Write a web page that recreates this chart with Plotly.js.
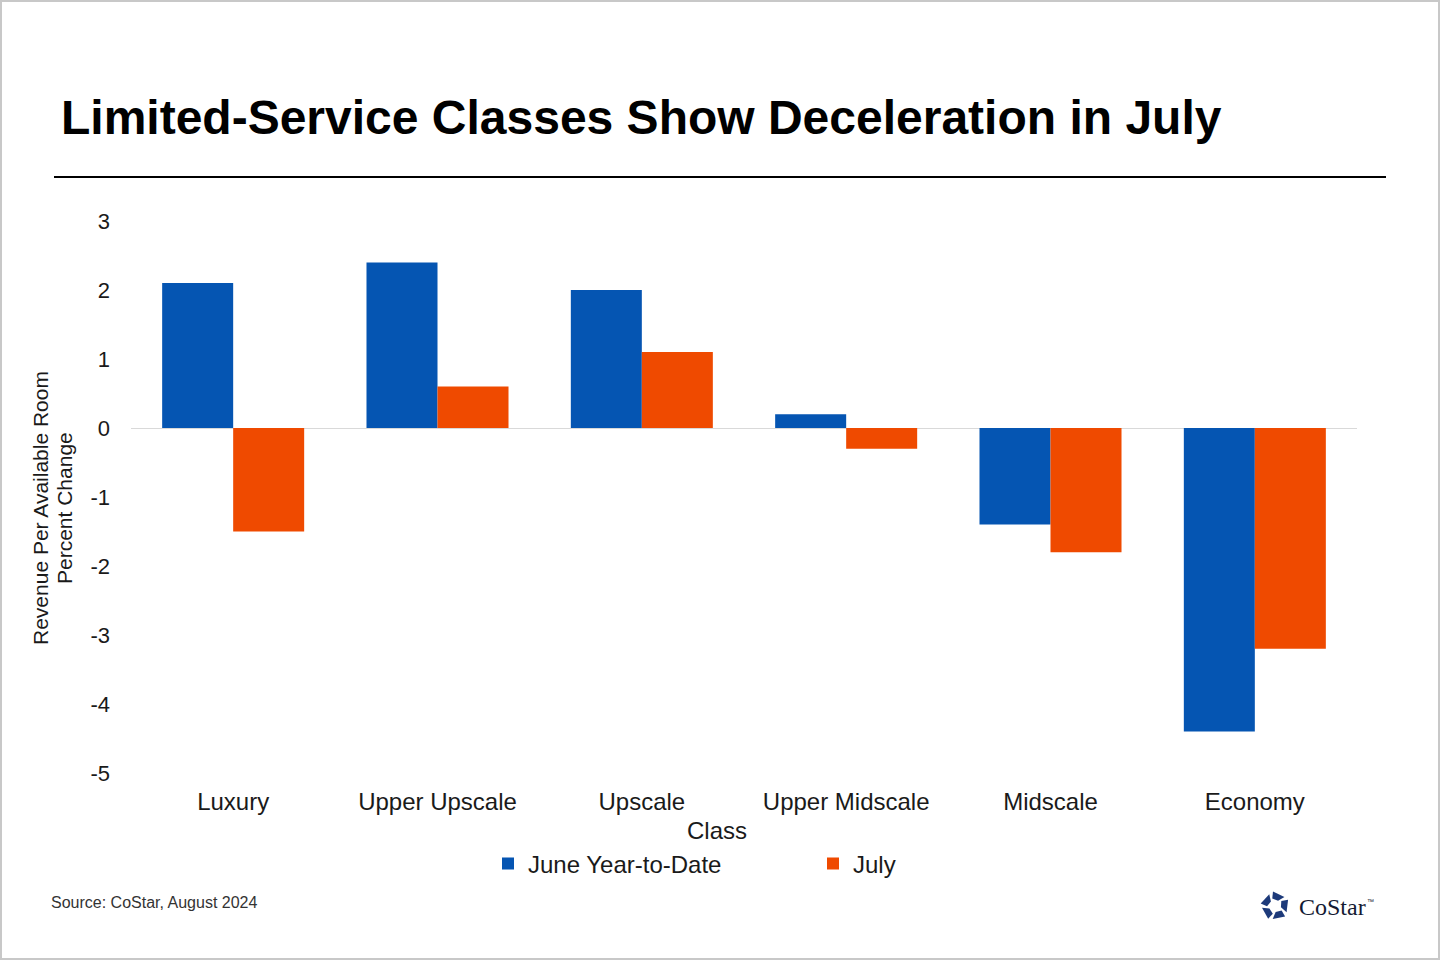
<!DOCTYPE html>
<html>
<head>
<meta charset="utf-8">
<script src="https://cdn.plot.ly/plotly-3.0.1.min.js"></script>
<style>
  html, body { margin: 0; padding: 0; background: #ffffff; }
  #chart { width: 1440px; height: 960px; }
</style>
</head>
<body>
<div id="chart"></div>
<script>
// ---- Data ----
const categories = ["Luxury", "Upper Upscale", "Upscale", "Upper Midscale", "Midscale", "Economy"];
const juneYTD = [2.1, 2.4, 2.0, 0.2, -1.4, -4.4];
const july = [-1.5, 0.6, 1.1, -0.3, -1.8, -3.2];
const seriesNames = ["June Year-to-Date", "July"];
const yTickVals = [3, 2, 1, 0, -1, -2, -3, -4, -5];

const chartTitle = "Limited-Service Classes Show Deceleration in July";
const yTitleLines = ["Revenue Per Available Room", "Percent Change"];
const xTitle = "Class";
const sourceText = "Source: CoStar, August 2024";

// ---- Style ----
const BLUE = "#0555B2";
const ORANGE = "#EF4A00";
const FONT = "Arial, 'Liberation Sans', sans-serif";
const W = 1440, H = 960;
const M = { l: 131, r: 83, t: 221, b: 187 };
const PW = W - M.l - M.r, PH = H - M.t - M.b;
const X = px => (px - M.l) / PW;
const Y = py => (H - M.b - py) / PH;

// CoStar logo mark (decorative)
function logoSVG() {
  const P = (deg, r) => [r * Math.cos(deg * Math.PI / 180), r * Math.sin(deg * Math.PI / 180)];
  let polys = "";
  for (let k = 0; k < 5; k++) {
    const t = -90 + 72 * k;
    const pts = [P(t - 8, 15.5), P(t + 46, 14), P(t + 30, 6.5), P(t - 20, 8.5)];
    polys += '<polygon points="' + pts.map(p => p[0].toFixed(2) + "," + p[1].toFixed(2)).join(" ") + '" fill="#1d3a7a"/>';
  }
  const svg = '<svg xmlns="http://www.w3.org/2000/svg" viewBox="-16 -16 32 32" width="32" height="32">' + polys + '</svg>';
  return "data:image/svg+xml;base64," + btoa(svg);
}

const traces = [
  { type: "bar", name: seriesNames[0], x: categories, y: juneYTD, marker: { color: BLUE }, hoverinfo: "x+y" },
  { type: "bar", name: seriesNames[1], x: categories, y: july, marker: { color: ORANGE }, hoverinfo: "x+y" }
];

const layout = {
  width: W, height: H,
  margin: M,
  paper_bgcolor: "#ffffff",
  plot_bgcolor: "#ffffff",
  font: { family: FONT, color: "#000000" },
  barmode: "group",
  bargap: 0.305,
  bargroupgap: 0,
  title: {
    text: chartTitle,
    xref: "container", yref: "container",
    x: 61 / W, y: 1 - 117 / H, xanchor: "left", yanchor: "middle",
    font: { family: FONT, size: 48, weight: "bold", color: "#000000" }
  },
  xaxis: {
    type: "category",
    showline: false, showgrid: false, zeroline: false, ticks: "",
    tickfont: { family: FONT, size: 24, color: "#1a1a1a" },
    ticklabelstandoff: 12,
    fixedrange: true
  },
  yaxis: {
    range: [-5, 3],
    tickvals: yTickVals,
    ticktext: yTickVals.map(v => String(v)),
    showline: false, showgrid: false,
    zeroline: true, zerolinecolor: "#D9D9D9", zerolinewidth: 1,
    ticks: "",
    tickfont: { family: FONT, size: 22, color: "#1a1a1a" },
    ticklabelstandoff: 20,
    fixedrange: true
  },
  showlegend: true,
  legend: {
    orientation: "h",
    x: X(488), xanchor: "left",
    y: Y(864), yanchor: "middle",
    font: { family: FONT, size: 24, color: "#1a1a1a" },
    entrywidth: 280, entrywidthmode: "pixels",
    bgcolor: "rgba(0,0,0,0)",
    traceorder: "normal"
  },
  annotations: [
    { text: yTitleLines[0], textangle: -90, xref: "paper", yref: "paper", x: X(40), y: Y(508), xanchor: "center", yanchor: "middle", showarrow: false, font: { family: FONT, size: 21, color: "#1a1a1a" } },
    { text: yTitleLines[1], textangle: -90, xref: "paper", yref: "paper", x: X(64), y: Y(508), xanchor: "center", yanchor: "middle", showarrow: false, font: { family: FONT, size: 21, color: "#1a1a1a" } },
    { text: xTitle, xref: "paper", yref: "paper", x: X(717), y: Y(830), xanchor: "center", yanchor: "middle", showarrow: false, font: { family: FONT, size: 24, color: "#1a1a1a" } },
    { text: sourceText, xref: "paper", yref: "paper", x: X(49), y: Y(902), xanchor: "left", yanchor: "middle", showarrow: false, font: { family: FONT, size: 16, color: "#333333" } },
    { text: "CoStar", xref: "paper", yref: "paper", x: X(1297), y: Y(907), xanchor: "left", yanchor: "middle", showarrow: false, font: { family: "'Liberation Serif', 'DejaVu Serif', serif", size: 24, color: "#141a33" } },
    { text: "™", xref: "paper", yref: "paper", x: X(1365), y: Y(901), xanchor: "left", yanchor: "middle", showarrow: false, font: { family: FONT, size: 7, color: "#141a33" } }
  ],
  shapes: [
    { type: "line", xref: "paper", yref: "paper", x0: X(54), x1: X(1386), y0: Y(177), y1: Y(177), line: { color: "#000000", width: 2 } },
    { type: "rect", xref: "paper", yref: "paper", x0: X(1), x1: X(W - 1), y0: Y(1), y1: Y(H - 1), line: { color: "#C8C8C8", width: 2 }, fillcolor: "rgba(0,0,0,0)", layer: "below" }
  ],
  images: [
    { source: logoSVG(), xref: "paper", yref: "paper", x: X(1260), y: Y(890), sizex: 30 / PW, sizey: 32 / PH, xanchor: "left", yanchor: "top", sizing: "contain", layer: "above" }
  ]
};

Plotly.newPlot("chart", traces, layout, { displayModeBar: false, staticPlot: true });
</script>
</body>
</html>
